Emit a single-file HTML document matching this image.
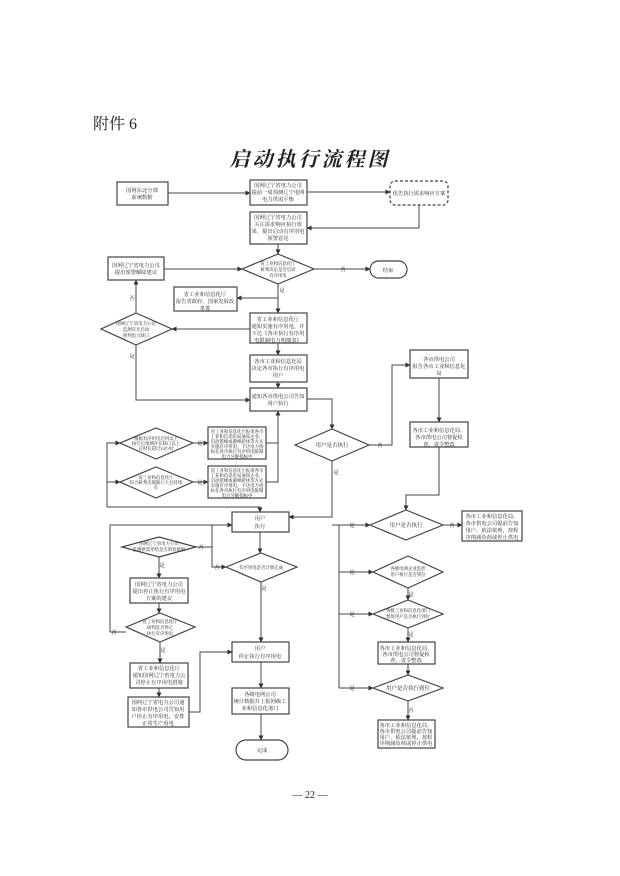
<!DOCTYPE html>
<html><head><meta charset="utf-8"><style>
html,body{margin:0;padding:0;background:#fff}
svg{display:block}
text{font-family:"Liberation Serif","Noto Serif CJK SC","Noto Sans CJK SC",serif;fill:#222}
.t{font-size:5.3px;text-anchor:middle}
.s{font-size:4.4px;text-anchor:middle}
.l{font-size:5.5px;text-anchor:middle}
</style></head><body>
<svg width="620" height="876" viewBox="0 0 620 876" xmlns="http://www.w3.org/2000/svg">
<defs><marker id="a" markerWidth="5" markerHeight="5" refX="4.5" refY="2.5" orient="auto" markerUnits="userSpaceOnUse"><path d="M0,0 L5,2.5 L0,5 z" fill="#333"/></marker></defs>
<text x="93" y="129" style="font-size:16px">附件 6</text>
<text x="310" y="166" style="font-size:20px;text-anchor:middle;font-weight:bold;letter-spacing:3px;font-style:italic">启动执行流程图</text>

<g fill="#fff" stroke="#444" stroke-width="1.2">
<rect x="117" y="182" width="51" height="23"/>
<rect x="250" y="180" width="57" height="25"/>
<rect x="390" y="181" width="58" height="24" rx="5" stroke-dasharray="3,2"/>
<rect x="250" y="212" width="57" height="32"/>
<polygon points="242,269 278,254 314,269 278,284"/>
<rect x="108" y="257" width="56" height="23"/>
<rect x="370" y="261" width="37" height="17" rx="8.5"/>
<rect x="174" y="287" width="63" height="24"/>
<rect x="250" y="313" width="57" height="30"/>
<polygon points="101,329 136,313 172,329 136,345"/>
<rect x="250" y="355" width="57" height="27"/>
<rect x="250" y="388" width="57" height="23"/>
<rect x="410" y="350" width="58" height="28"/>
<polygon points="295,445 332,429 369,445 332,461"/>
<rect x="410" y="422" width="58" height="25"/>
<polygon points="120,443 156,428 193,443 156,459"/>
<rect x="208" y="427" width="58" height="32"/>
<polygon points="120,482 156,467 193,482 156,498"/>
<rect x="208" y="466" width="58" height="32"/>
<rect x="232" y="512" width="57" height="20"/>
<polygon points="122,547 159,537 196,547 159,557"/>
<polygon points="226,567 261,553 297,567 261,582"/>
<rect x="130" y="578" width="58" height="25"/>
<polygon points="126,627 160,613 195,627 160,642"/>
<rect x="130" y="663" width="58" height="25"/>
<rect x="128" y="697" width="61" height="30"/>
<rect x="232" y="642" width="57" height="20"/>
<rect x="232" y="688" width="57" height="26"/>
<rect x="236" y="740" width="52" height="20" rx="10"/>
<polygon points="370,525 406,510 443,525 406,540"/>
<rect x="462" y="511" width="60" height="30"/>
<polygon points="373,572 408,556 443,572 408,588"/>
<polygon points="373,614 408,600 443,614 408,628"/>
<rect x="378" y="642" width="57" height="22"/>
<polygon points="373,688 408,675 443,688 408,701"/>
<rect x="378" y="720" width="57" height="28"/>
</g>

<g fill="none" stroke="#444" stroke-width="1">
<path d="M168,193 H250" marker-end="url(#a)"/>
<path d="M307,192 H390" marker-end="url(#a)"/>
<path d="M419,205 V228 H307" marker-end="url(#a)"/>
<path d="M278,244 V254" marker-end="url(#a)"/>
<path d="M314,269 H370" marker-end="url(#a)"/>
<path d="M164,269 H242" marker-end="url(#a)"/>
<path d="M278,284 V313" marker-end="url(#a)"/>
<path d="M278,298 H237" marker-end="url(#a)"/>
<path d="M250,329 H172" marker-end="url(#a)"/>
<path d="M136,313 V280" marker-end="url(#a)"/>
<path d="M136,345 V400 H250" marker-end="url(#a)"/>
<path d="M278,343 V355" marker-end="url(#a)"/>
<path d="M278,382 V388" marker-end="url(#a)"/>
<path d="M307,399 H332 V429" marker-end="url(#a)"/>
<path d="M369,445 H392 V365 H410" marker-end="url(#a)"/>
<path d="M439,378 V422" marker-end="url(#a)"/>
<path d="M439,447 V495 H406 V510" marker-end="url(#a)"/>
<path d="M193,443 H208" marker-end="url(#a)"/>
<path d="M193,482 H208" marker-end="url(#a)"/>
<path d="M266,443 H278 M266,482 H278 V411" marker-end="url(#a)"/>
<path d="M107,507 V443 H120" marker-end="url(#a)"/>
<path d="M107,482 H120" marker-end="url(#a)"/>
<path d="M107,507 H260 V512" marker-end="url(#a)"/>
<path d="M332,461 V517 H289" marker-end="url(#a)"/>
<path d="M339,525 V688"/>
<path d="M332,525 H370" marker-end="url(#a)"/>
<path d="M339,572 H373" marker-end="url(#a)"/>
<path d="M339,614 H373" marker-end="url(#a)"/>
<path d="M339,688 H373" marker-end="url(#a)"/>
<path d="M443,525 H462" marker-end="url(#a)"/>
<path d="M408,588 V600" marker-end="url(#a)"/>
<path d="M408,628 V642" marker-end="url(#a)"/>
<path d="M408,664 V675" marker-end="url(#a)"/>
<path d="M408,701 V720" marker-end="url(#a)"/>
<path d="M110,632 V525 H232" marker-end="url(#a)"/>
<path d="M126,632 H110"/>
<path d="M196,547 H212"/>
<path d="M212,525 V567 H226" marker-end="url(#a)"/>
<path d="M260,532 V553" marker-end="url(#a)"/>
<path d="M261,582 V642" marker-end="url(#a)"/>
<path d="M159,557 V578" marker-end="url(#a)"/>
<path d="M159,603 V613" marker-end="url(#a)"/>
<path d="M160,642 V663" marker-end="url(#a)"/>
<path d="M159,688 V697" marker-end="url(#a)"/>
<path d="M189,712 H200 V652 H232" marker-end="url(#a)"/>
<path d="M261,662 V688" marker-end="url(#a)"/>
<path d="M261,714 V740" marker-end="url(#a)"/>
</g>

<g>
<text class="t" x="142" y="192">国网东北分部</text><text class="t" x="142" y="199">系统数据</text>
<text class="t" x="278" y="187">国网辽宁省电力公司</text><text class="t" x="278" y="194">提前一周预测辽宁电网</text><text class="t" x="278" y="201">电力供需平衡</text>
<text class="t" x="419" y="195">优先执行需求响应方案</text>
<text class="t" x="278" y="219">国网辽宁省电力公司</text><text class="t" x="278" y="226">关注需求响应执行效</text><text class="t" x="278" y="233">果，提出启动有序用电</text><text class="t" x="278" y="240">预警意见</text>
<text class="s" x="278" y="265">省工业和信息化厅</text><text class="s" x="278" y="271">研判决定是否启动</text><text class="s" x="278" y="277">有序用电</text>
<text class="t" x="136" y="267">国网辽宁省电力公司</text><text class="t" x="136" y="274">提出预警解除建议</text>
<text class="t" x="388" y="272">结束</text>
<text class="t" x="205" y="296">省工业和信息化厅</text><text class="t" x="205" y="303">报告省政府、国家发展改</text><text class="t" x="205" y="310">革委</text>
<text class="t" x="278" y="321">省工业和信息化厅</text><text class="t" x="278" y="328">通知实施有序用电，并</text><text class="t" x="278" y="335">下达《各市执行有序用</text><text class="t" x="278" y="342">电限制电力明细表》</text>
<text class="s" x="136" y="325">国网辽宁省电力公司</text><text class="s" x="136" y="331">监测有无启动</text><text class="s" x="136" y="337">预判电力缺口</text>
<text class="t" x="278" y="363">各市工业和信息化局</text><text class="t" x="278" y="370">决定各市执行有序用电</text><text class="t" x="278" y="377">用户</text>
<text class="t" x="278" y="398">通知各市供电公司告知</text><text class="t" x="278" y="405">用户执行</text>
<text class="t" x="439" y="361">各市供电公司</text><text class="t" x="439" y="368">报告各市工业和信息化</text><text class="t" x="439" y="375">局</text>
<text class="l" x="332" y="447">用户是否执行</text>
<text class="t" x="439" y="432">各市工业和信息化局、</text><text class="t" x="439" y="439">各市供电公司督促检</text><text class="t" x="439" y="446">查、责令整改</text>
<text class="s" x="156" y="440">根据有序用电启用以上</text><text class="s" x="156" y="445">执行后预测存在缺口以上</text><text class="s" x="156" y="450">日时长超过24小时</text>
<text class="s" x="237" y="433">省工业和信息化厅报请各市</text><text class="s" x="237" y="438">工业和信息化局通知企业，</text><text class="s" x="237" y="443">启动错峰或避峰轮休等方式</text><text class="s" x="237" y="448">实施有序用电，下达电力指</text><text class="s" x="237" y="453">标在各市执行有序用电限制</text><text class="s" x="237" y="458">电力分解指标中</text>
<text class="s" x="156" y="479">省工业和信息化厅</text><text class="s" x="156" y="484">综合研判出现缺口大且持续</text><text class="s" x="156" y="489">长</text>
<text class="s" x="237" y="472">省工业和信息化厅报请各市</text><text class="s" x="237" y="477">工业和信息化局通知企业，</text><text class="s" x="237" y="482">启动错峰或避峰轮休等方式</text><text class="s" x="237" y="487">实施有序用电，下达电力指</text><text class="s" x="237" y="492">标在各市执行有序用电限制</text><text class="s" x="237" y="497">电力分解指标中</text>
<text class="t" x="260" y="520">用户</text><text class="t" x="260" y="528">执行</text>
<text class="s" x="159" y="545">国网辽宁省电力公司</text><text class="s" x="159" y="551">监测供需形势是否明显缓解</text>
<text class="s" x="261" y="569">有序用电是否计划完成</text>
<text class="t" x="159" y="586">国网辽宁省电力公司</text><text class="t" x="159" y="593">提出停止执行有序用电</text><text class="t" x="159" y="600">方案的建议</text>
<text class="s" x="160" y="623">省工业和信息化厅</text><text class="s" x="160" y="629">研判是否停止</text><text class="s" x="160" y="635">执行有序用电</text>
<text class="t" x="159" y="670">省工业和信息化厅</text><text class="t" x="159" y="677">通知国网辽宁省电力公</text><text class="t" x="159" y="684">司停止有序用电措施</text>
<text class="t" x="158" y="704">国网辽宁省电力公司通</text><text class="t" x="158" y="711">知各市供电公司告知用</text><text class="t" x="158" y="718">户停止有序用电，安排</text><text class="t" x="158" y="725">正常生产用电</text>
<text class="t" x="260" y="650">用户</text><text class="t" x="260" y="658">停止执行有序用电</text>
<text class="t" x="260" y="696">各级电网公司</text><text class="t" x="260" y="703">统计数据并上报网级工</text><text class="t" x="260" y="710">业和信息化部门</text>
<text class="t" x="262" y="752">完成</text>
<text class="l" x="406" y="527">用户是否执行</text>
<text class="t" x="492" y="518">各市工业和信息化局、</text><text class="t" x="492" y="525">各市供电公司提前告知</text><text class="t" x="492" y="532">用户，依法依规，按程</text><text class="t" x="492" y="539">序削减负荷或停止供电</text>
<text class="s" x="408" y="570">各级电网企业监控</text><text class="s" x="408" y="576">用户执行是否到位</text>
<text class="s" x="408" y="612">各级工业和信息化部门</text><text class="s" x="408" y="618">督促用户是否执行到位</text>
<text class="t" x="406" y="650">各市工业和信息化局、</text><text class="t" x="406" y="656">各市供电公司督促检</text><text class="t" x="406" y="662">查、责令整改</text>
<text class="l" x="408" y="690">用户是否执行到位</text>
<text class="t" x="406" y="727">各市工业和信息化局、</text><text class="t" x="406" y="733">各市供电公司提前告知</text><text class="t" x="406" y="739">用户，依法依规，按程</text><text class="t" x="406" y="745">序削减负荷或停止供电</text>
</g>
<g class="t" style="font-size:5px">
<text class="t" x="343" y="271">否</text><text class="t" x="282" y="292">是</text><text class="t" x="132" y="300">否</text><text class="t" x="132" y="358">是</text>
<text class="t" x="380" y="447">否</text><text class="t" x="336" y="474">是</text>
<text class="t" x="200" y="445">是</text><text class="t" x="200" y="484">是</text>
<text class="t" x="352" y="527">是</text><text class="t" x="452" y="527">否</text>
<text class="t" x="352" y="574">是</text><text class="t" x="352" y="616">是</text><text class="t" x="352" y="690">是</text>
<text class="t" x="411" y="596">是</text><text class="t" x="411" y="636">是</text><text class="t" x="411" y="712">否</text>
<text class="t" x="201" y="549">否</text><text class="t" x="217" y="569">否</text><text class="t" x="264" y="590">是</text>
<text class="t" x="162" y="567">是</text><text class="t" x="114" y="634">否</text><text class="t" x="163" y="652">是</text>
</g>
<text x="310" y="798" style="font-size:10px;text-anchor:middle">— 22 —</text>
</svg>
</body></html>
